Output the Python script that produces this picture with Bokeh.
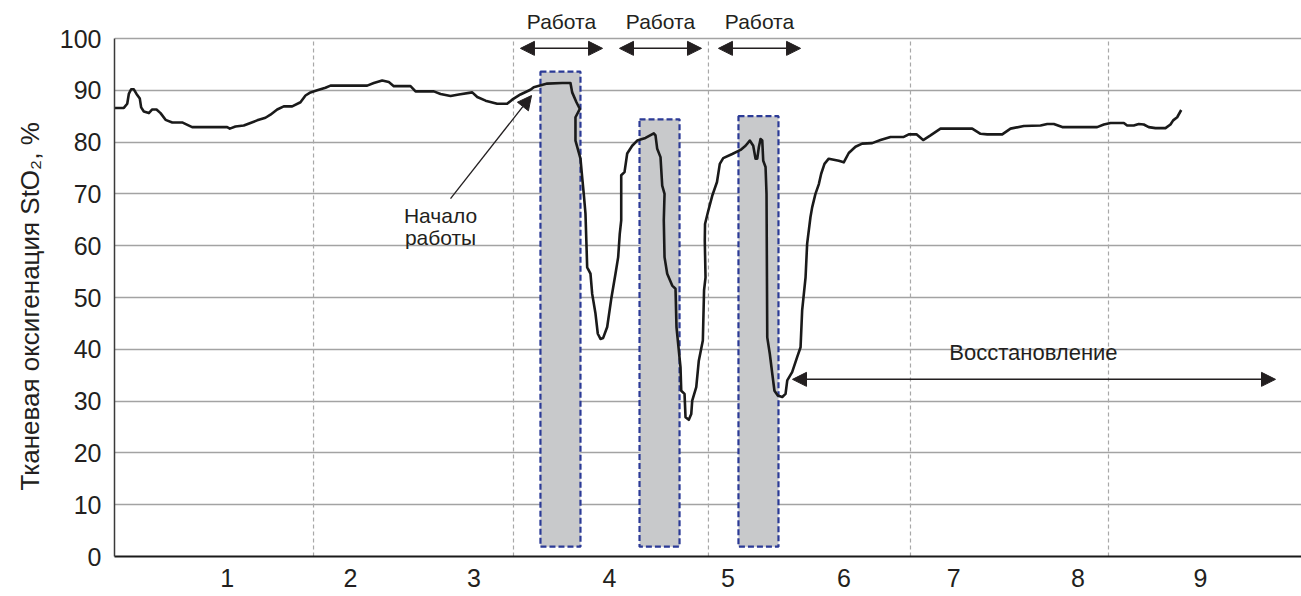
from bokeh.plotting import figure
from bokeh.models import Range1d, FixedTicker, Arrow, NormalHead, Title
from bokeh.core.properties import value
from bokeh.embed import file_html
from bokeh.resources import INLINE

FONT = "Liberation Sans"

# ---- data ----
time = [0.066, 0.142, 0.170, 0.183, 0.202, 0.224, 0.246, 0.273, 0.284, 0.306, 0.347, 0.375, 0.410, 0.443,
        0.484, 0.539, 0.620, 0.702, 0.989, 1.011, 1.057, 1.125, 1.180, 1.235, 1.303, 1.344, 1.399, 1.453,
        1.522, 1.590, 1.631, 1.672, 1.727, 1.795, 1.836, 1.918,
        2.137, 2.191, 2.260, 2.314, 2.355, 2.492, 2.533, 2.683, 2.738, 2.820, 2.888, 2.998, 3.039, 3.107,
        3.202, 3.284, 3.325, 3.393, 3.475, 3.502, 3.612, 3.735, 3.803,
        3.817, 3.852, 3.880, 3.844, 3.844, 3.885, 3.899, 3.912, 3.926, 3.940, 3.967, 3.981, 4.008, 4.027,
        4.049, 4.071, 4.104, 4.137, 4.172, 4.194, 4.207, 4.219, 4.219, 4.246, 4.268, 4.309, 4.350, 4.418,
        4.486, 4.500, 4.514, 4.541, 4.555, 4.574, 4.568, 4.574, 4.596, 4.637, 4.664, 4.672, 4.691, 4.705,
        4.711, 4.738, 4.746, 4.773, 4.793, 4.801, 4.834, 4.855, 4.888, 4.898, 4.910, 4.904, 4.906, 4.930,
        4.967, 5.004, 5.027, 5.055, 5.129, 5.197, 5.238, 5.273, 5.301, 5.320, 5.334, 5.347, 5.361, 5.375,
        5.383, 5.402, 5.410, 5.416, 5.437, 5.457, 5.475, 5.502, 5.539, 5.566, 5.580, 5.620, 5.661, 5.689,
        5.702, 5.730, 5.743, 5.770, 5.784, 5.811, 5.839, 5.858, 5.885, 5.920, 5.961, 6.002, 6.043, 6.084,
        6.139, 6.194, 6.276, 6.344, 6.426, 6.535, 6.576, 6.639, 6.694, 6.754, 6.836, 7.096, 7.164, 7.219,
        7.342, 7.410, 7.519, 7.656, 7.711, 7.765, 7.834, 8.120, 8.175, 8.230, 8.339, 8.366, 8.420, 8.461,
        8.502, 8.543, 8.598, 8.680, 8.721, 8.743, 8.776, 8.809]
sto2 = [86.6, 86.6, 87.4, 89.3, 90.2, 90.2, 89.3, 88.4, 86.7, 85.9, 85.6, 86.3, 86.3, 85.6,
        84.3, 83.8, 83.8, 82.9, 82.9, 82.6, 83.0, 83.2, 83.7, 84.2, 84.7, 85.3, 86.3, 86.9,
        86.9, 87.7, 89.0, 89.6, 90.0, 90.5, 90.9, 90.9,
        90.9, 91.4, 91.9, 91.6, 90.8, 90.8, 89.8, 89.8, 89.3, 88.9, 89.2, 89.6, 88.7, 88.0,
        87.4, 87.4, 88.2, 89.2, 90.1, 90.6, 91.3, 91.4, 91.4,
        89.6, 87.7, 86.4, 84.8, 80.3, 76.8, 73.2, 70.0, 66.2, 55.8, 54.6, 50.7, 46.9, 43.0,
        42.0, 42.2, 44.3, 49.7, 54.6, 57.8, 62.3, 64.9, 73.6, 74.2, 77.8, 79.3, 80.3, 80.8,
        81.7, 81.3, 78.7, 77.1, 71.6, 70.0, 64.9, 57.8, 54.6, 52.3, 51.7, 44.3, 39.8, 36.5,
        32.0, 31.4, 26.9, 26.4, 27.5, 30.1, 32.7, 37.8, 41.7, 51.4, 53.9, 61.0, 64.2, 66.5,
        69.8, 72.3, 75.8, 76.9, 77.7, 78.5, 79.3, 80.3, 79.3, 76.8, 76.8, 79.0, 80.6, 80.3,
        76.4, 75.2, 70.0, 42.3, 39.1, 35.3, 32.0, 31.1, 30.8, 31.4, 34.0, 35.6, 38.5, 40.4,
        47.5, 53.9, 60.4, 65.5, 67.4, 70.0, 71.9, 73.9, 75.8, 76.8, 76.6, 76.4, 76.1, 77.9,
        79.1, 79.7, 79.8, 80.4, 81.0, 81.0, 81.5, 81.5, 80.4, 81.3, 82.6, 82.6, 81.6, 81.5,
        81.5, 82.6, 83.1, 83.2, 83.5, 83.5, 82.9, 82.9, 83.4, 83.7, 83.7, 83.2, 83.2, 83.5,
        83.4, 82.9, 82.7, 82.7, 83.4, 84.2, 84.8, 86.2]

tick_pos = [0.989, 2.0, 3.011, 4.123, 5.094, 6.045, 6.945, 7.962, 8.967]
tick_labels = ["1", "2", "3", "4", "5", "6", "7", "8", "9"]
y_ticks = [0, 10, 20, 30, 40, 50, 60, 70, 80, 90, 100]
vlines = [1.697, 3.336, 4.934, 6.590, 8.213]

box_left = [3.557, 4.369, 5.180]
box_right = [3.885, 4.697, 5.508]
box_top = [93.6, 84.4, 85.0]
box_bottom = [1.9, 1.9, 1.9]

work_start = [3.393, 4.205, 5.016]
work_end = [4.066, 4.877, 5.689]
work_label = ["Работа", "Работа", "Работа"]

rec_start, rec_end, rec_y = 5.623, 9.582, 34.2
rec_label = "Восстановление"
start_label = ["Начало", "работы"]
y_title = "Тканевая оксигенация StO₂, %"

# ---- figure ----
p = figure(width=1301, height=596, output_backend="svg", toolbar_location=None,
           x_range=Range1d(0.0656, 9.795), y_range=Range1d(0, 107.34),
           min_border_left=114, min_border_right=0, min_border_top=0, min_border_bottom=40)
p.outline_line_color = None
p.background_fill_color = "white"

# grid
p.xgrid.visible = False
p.ygrid.ticker = FixedTicker(ticks=y_ticks[1:])
p.ygrid.grid_line_color = "#a3a3a3"
p.ygrid.grid_line_width = 1.6

p.segment(x0=vlines, y0=[0] * len(vlines), x1=vlines, y1=[100] * len(vlines),
          line_color="#a8a8a8", line_width=1.2, line_dash="4 3")

# axes
p.yaxis.ticker = FixedTicker(ticks=y_ticks)
p.yaxis.bounds = (0, 100)
p.yaxis.axis_line_color = "#3a3a3a"
p.yaxis.axis_line_width = 1.5
p.yaxis.major_tick_line_color = None
p.yaxis.minor_tick_line_color = None
p.yaxis.major_tick_out = 0
p.yaxis.major_label_standoff = 13
p.yaxis.major_label_text_font = FONT
p.yaxis.major_label_text_font_size = "25px"
p.yaxis.major_label_text_color = "#231f20"

p.xaxis.ticker = FixedTicker(ticks=tick_pos)
p.xaxis.major_label_overrides = {t: l for t, l in zip(tick_pos, tick_labels)}
p.xaxis.axis_line_color = "#1a1a1a"
p.xaxis.axis_line_width = 2
p.xaxis.major_tick_line_color = None
p.xaxis.minor_tick_line_color = None
p.xaxis.major_tick_out = 0
p.xaxis.major_label_standoff = 12
p.xaxis.major_label_text_font = FONT
p.xaxis.major_label_text_font_size = "25px"
p.xaxis.major_label_text_color = "#231f20"

# y title (left side, rotated)
p.add_layout(Title(text=y_title, align="left", offset=66, standoff=20, vertical_align="top",
                   text_font=FONT, text_font_size="26px", text_font_style="normal",
                   text_color="#231f20"), "left")

# work boxes
p.quad(left=box_left, right=box_right, top=box_top, bottom=box_bottom,
       fill_color="#c8c9cb", line_color="#2b3a96", line_width=2.2, line_dash="6 3")

# main curve
p.line(time, sto2, line_color="#1a1a1a", line_width=2.6, line_join="round")

# work arrows and labels
for s, e in zip(work_start, work_end):
    p.add_layout(Arrow(x_start=s, y_start=98.1, x_end=e, y_end=98.1, line_width=1.5, line_color="#231f20",
                       start=NormalHead(size=14, fill_color="#231f20", line_color="#231f20"),
                       end=NormalHead(size=14, fill_color="#231f20", line_color="#231f20")))
p.text(x=[(s + e) / 2 for s, e in zip(work_start, work_end)], y=[103.3] * 3, text=work_label,
       text_font=value(FONT), text_font_size="21px", text_align="center", text_baseline="middle",
       text_color="#231f20")

# recovery arrow
p.add_layout(Arrow(x_start=rec_start, y_start=rec_y, x_end=rec_end, y_end=rec_y, line_width=1.5,
                   line_color="#231f20",
                   start=NormalHead(size=14, fill_color="#231f20", line_color="#231f20"),
                   end=NormalHead(size=14, fill_color="#231f20", line_color="#231f20")))
p.text(x=[7.598], y=[39.4], text=[rec_label], text_font=value(FONT), text_font_size="22px",
       text_align="center", text_baseline="middle", text_color="#231f20")

# start-of-work annotation
p.add_layout(Arrow(x_start=2.820, y_start=69.1, x_end=3.484, y_end=89.0, line_width=1.3,
                   line_color="#231f20",
                   end=NormalHead(size=14, fill_color="#231f20", line_color="#231f20")))
p.text(x=[2.738, 2.738], y=[65.8, 61.6], text=start_label, text_font=value(FONT), text_font_size="21px",
       text_align="center", text_baseline="middle", text_color="#231f20")

open("out.html", "w").write(file_html(p, INLINE))
